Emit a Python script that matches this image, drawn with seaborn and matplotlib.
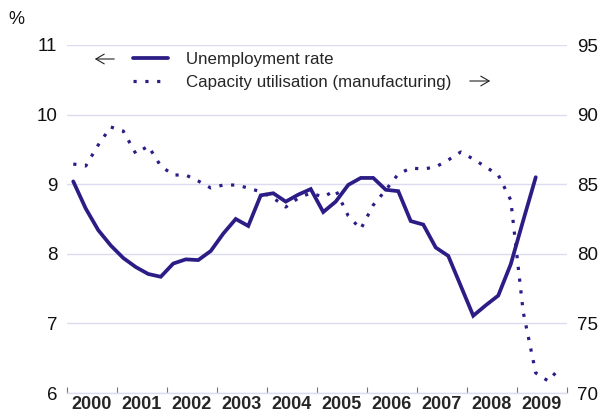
import numpy as np
import pandas as pd
import matplotlib
matplotlib.use("Agg")
import matplotlib.pyplot as plt
import seaborn as sns

# ---- data (quarterly, 2000Q1 onwards) ----
unemp_quarters = [f"{y}Q{q}" for y in range(2000, 2010) for q in range(1, 5)][:38]
unemployment = [9.04, 8.65, 8.34, 8.12,
                7.94, 7.81, 7.71, 7.67,
                7.86, 7.92, 7.91, 8.04,
                8.29, 8.50, 8.40, 8.84,
                8.87, 8.75, 8.85, 8.93,
                8.60, 8.75, 8.99, 9.09,
                9.09, 8.92, 8.90, 8.47,
                8.42, 8.09, 7.97, 7.54,
                7.11, 7.26, 7.40, 7.85,
                8.48, 9.10]
cap_quarters = [f"{y}Q{q}" for y in range(2000, 2010) for q in range(1, 5)]
capacity = [86.45, 86.31, 87.82, 89.11,
            88.82, 87.20, 87.74, 86.31,
            85.66, 85.66, 85.23, 84.73,
            84.94, 84.94, 84.73, 84.45,
            84.01, 83.36, 84.00, 84.37,
            84.08, 84.58, 82.72, 81.78,
            83.50, 84.58, 85.73, 86.16,
            86.09, 86.24, 86.74, 87.31,
            86.81, 86.24, 85.66, 83.86,
            75.80, 71.44, 70.86, 71.87]
years = list(range(2000, 2010))
left_ticks = [6, 7, 8, 9, 10, 11]
right_ticks = [70, 75, 80, 85, 90, 95]
labels = ["Unemployment rate", "Capacity utilisation (manufacturing)"]


def qpos(q):
    y, n = q.split("Q")
    return int(y) + (int(n) - 0.5) / 4


df_u = pd.DataFrame({"t": [qpos(q) for q in unemp_quarters], "v": unemployment})
df_c = pd.DataFrame({"t": [qpos(q) for q in cap_quarters], "v": capacity})

sns.set_theme(style="white")
plt.rcParams["font.family"] = ["Liberation Sans", "DejaVu Sans"]

W, H = 598, 413
fig = plt.figure(figsize=(W / 100, H / 100), dpi=100)
ax = fig.add_axes([67 / W, 20 / H, 500 / W, 348 / H])
ax2 = ax.twinx()

LINE = "#2c1d86"
GRID = "#dcdcf0"

sns.lineplot(data=df_u, x="t", y="v", ax=ax, color=LINE, linewidth=2.7,
             solid_joinstyle="miter", label=labels[0], legend=False)
sns.lineplot(data=df_c, x="t", y="v", ax=ax2, color=LINE, linewidth=2.3,
             linestyle=(0, (1, 2.7)), label=labels[1], legend=False)

ax.set_xlim(2000, 2010)
ax.set_ylim(6, 11)
ax2.set_ylim(70, 95)
ax.set_yticks(left_ticks)
ax2.set_yticks(right_ticks)
ax.set_yticklabels([str(v) for v in left_ticks])
ax2.set_yticklabels([str(v) for v in right_ticks])

ax.set_xticks(years + [2010])
ax.set_xticklabels([])
ax.set_xticks([y + 0.5 for y in years], minor=True)
ax.set_xticklabels([str(y) for y in years], minor=True, fontweight="bold", fontsize=13)
ax.tick_params(axis="x", which="major", direction="in", length=4, width=0.8,
               color="#777777", bottom=True)
ax.tick_params(axis="x", which="minor", length=0, pad=2.5)
ax.tick_params(axis="y", length=0, pad=7, labelsize=13.5, labelcolor="#111111")
ax2.tick_params(axis="y", length=0, pad=7, labelsize=13.5, labelcolor="#111111")

ax.grid(axis="y", color=GRID, linewidth=1.0)
ax.grid(axis="x", visible=False)
ax2.grid(False)
ax.set_axisbelow(True)
for a in (ax, ax2):
    for s in a.spines.values():
        s.set_visible(False)
ax.spines["bottom"].set_visible(True)
ax.spines["bottom"].set_color(GRID)
ax.spines["bottom"].set_linewidth(1.0)
ax.set_xlabel("")
ax.set_ylabel("")
ax2.set_ylabel("")

# unit label
fig.text(8 / W, 1 - 20 / H, "%", fontsize=13, ha="left", va="center", color="#111111")

# legend
handles = [ax.get_lines()[0], ax2.get_lines()[0]]
fig.legend(handles, labels, loc="upper left", bbox_to_anchor=(133 / W, 1 - 52 / H),
           frameon=False, fontsize=12.2, handlelength=2.05, handletextpad=1.05,
           labelspacing=0.45, borderpad=0, borderaxespad=0)

# arrows
fig.add_artist(matplotlib.patches.FancyArrowPatch(
    (117 / W, 1 - 59 / H), (92 / W, 1 - 59 / H), transform=fig.transFigure,
    arrowstyle="->,head_length=6,head_width=3.5", color="#222222", lw=0.8))
fig.add_artist(matplotlib.patches.FancyArrowPatch(
    (467 / W, 1 - 81 / H), (493 / W, 1 - 81 / H), transform=fig.transFigure,
    arrowstyle="->,head_length=6,head_width=3.5", color="#222222", lw=0.8))

fig.savefig("out.png", dpi=100)
